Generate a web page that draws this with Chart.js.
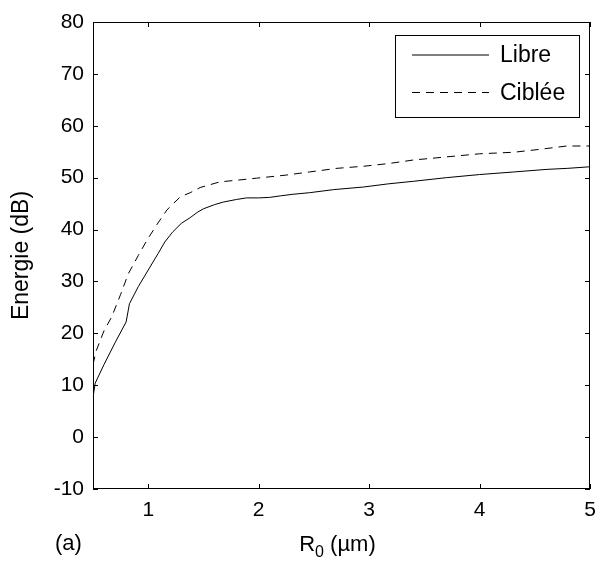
<!DOCTYPE html>
<html>
<head>
<meta charset="utf-8">
<script src="https://cdn.jsdelivr.net/npm/chart.js@4/dist/chart.umd.min.js"></script>
<style>
html,body{margin:0;padding:0;background:#fff;}
canvas{display:block;}
</style>
</head>
<body>
<canvas id="c" width="601" height="566"></canvas>
<script>
// ---- data ----
const seriesNames = ['Libre', 'Ciblée'];
const xLibre = [0.50, 0.52, 0.60, 0.70, 0.80, 0.83, 0.91, 1.00, 1.09, 1.15, 1.22, 1.30, 1.38, 1.45, 1.50, 1.60, 1.68, 1.80, 1.89, 2.00, 2.10, 2.20, 2.31, 2.46, 2.68, 2.95, 3.17, 3.40, 3.70, 4.00, 4.31, 4.61, 4.80, 5.00];
const yLibre = [7.7, 10.4, 14.0, 18.2, 22.2, 25.7, 29.0, 32.2, 35.4, 37.6, 39.5, 41.2, 42.3, 43.4, 44.0, 44.8, 45.3, 45.8, 46.1, 46.1, 46.2, 46.5, 46.8, 47.1, 47.7, 48.2, 48.8, 49.3, 50.0, 50.6, 51.1, 51.6, 51.8, 52.1];
const xCiblee = [0.50, 0.53, 0.60, 0.67, 0.75, 0.82, 0.91, 0.99, 1.08, 1.17, 1.29, 1.38, 1.47, 1.65, 1.80, 1.98, 2.25, 2.46, 2.71, 2.95, 3.17, 3.40, 3.70, 4.00, 4.31, 4.52, 4.79, 5.00];
const yCiblee = [14.0, 16.7, 20.5, 23.2, 27.5, 31.5, 35.0, 38.0, 41.0, 43.8, 46.3, 47.1, 48.1, 49.2, 49.5, 49.9, 50.5, 51.1, 51.8, 52.2, 52.7, 53.4, 54.0, 54.6, 54.9, 55.4, 56.1, 56.1];
const xTicks = [1, 2, 3, 4, 5];
const yTicks = [-10, 0, 10, 20, 30, 40, 50, 60, 70, 80];
const yTitle = 'Energie (dB)';
const xTitleMain = 'R';
const xTitleSub = '0';
const xTitleRest = ' (\u00b5m)';
const panelTag = '(a)';

const FONT = '"Liberation Sans", Arial, Helvetica, sans-serif';

const toPts = (xs, ys) => xs.map((x, i) => ({x: x, y: ys[i]}));

const framePlugin = {
  id: 'frame',
  afterDraw(chart) {
    const ctx = chart.ctx;
    const a = chart.chartArea;
    const xs = chart.scales.x, ys = chart.scales.y;
    ctx.save();
    ctx.strokeStyle = '#000';
    ctx.lineWidth = 1;
    // box
    ctx.strokeRect(Math.round(a.left) + 0.5, Math.round(a.top) + 0.5,
                   Math.round(a.right - a.left) - 1, Math.round(a.bottom - a.top) - 1);
    // inward ticks
    const tl = 5;
    ctx.beginPath();
    ys.ticks.forEach(t => {
      const py = Math.round(ys.getPixelForValue(t.value)) + 0.5;
      ctx.moveTo(a.left, py); ctx.lineTo(a.left + tl, py);
      ctx.moveTo(a.right, py); ctx.lineTo(a.right - tl, py);
    });
    xs.ticks.forEach(t => {
      const px = Math.round(xs.getPixelForValue(t.value)) + 0.5;
      ctx.moveTo(px, a.bottom); ctx.lineTo(px, a.bottom - tl);
      ctx.moveTo(px, a.top); ctx.lineTo(px, a.top + tl);
    });
    ctx.stroke();

    // legend
    const lx = 395.5, ly = 35.5, lw = 184, lh = 82;
    ctx.fillStyle = '#fff';
    ctx.fillRect(lx, ly, lw, lh);
    ctx.strokeRect(lx, ly, lw, lh);
    chart.data.datasets.forEach((ds, i) => {
      const yy = (i === 0 ? 55 : 92.5);
      ctx.beginPath();
      ctx.setLineDash(ds.borderDash || []);
      ctx.moveTo(412, yy); ctx.lineTo(489, yy);
      ctx.stroke();
      ctx.setLineDash([]);
      ctx.fillStyle = '#000';
      ctx.font = '23px ' + FONT;
      ctx.textBaseline = 'middle';
      ctx.textAlign = 'left';
      ctx.fillText(ds.label, 500, yy + 1);
    });

    // x title with subscript
    ctx.fillStyle = '#000';
    ctx.textBaseline = 'alphabetic';
    ctx.textAlign = 'left';
    const big = '22px ' + FONT, small = '16px ' + FONT;
    ctx.font = big; const w1 = ctx.measureText(xTitleMain).width;
    ctx.font = small; const w2 = ctx.measureText(xTitleSub).width;
    ctx.font = big; const w3 = ctx.measureText(xTitleRest).width;
    const total = w1 + w2 + w3;
    let x0 = (a.left + a.right) / 2 - total / 2 - 4;
    const base = 551;
    ctx.font = big; ctx.fillText(xTitleMain, x0, base);
    ctx.font = small; ctx.fillText(xTitleSub, x0 + w1, base + 6);
    ctx.font = big; ctx.fillText(xTitleRest, x0 + w1 + w2, base);

    // panel tag
    ctx.font = '22px ' + FONT;
    ctx.fillText(panelTag, 55, 550);
    ctx.restore();
  }
};

new Chart(document.getElementById('c'), {
  type: 'line',
  data: {
    datasets: [
      { label: seriesNames[0], data: toPts(xLibre, yLibre), borderColor: '#000', borderWidth: 1, pointRadius: 0, tension: 0, fill: false },
      { label: seriesNames[1], data: toPts(xCiblee, yCiblee), borderColor: '#000', borderWidth: 1, borderDash: [8, 6], pointRadius: 0, tension: 0, fill: false }
    ]
  },
  options: {
    responsive: false,
    animation: false,
    devicePixelRatio: 1,
    layout: { padding: { left: 0, top: 22, right: 11, bottom: 0 } },
    plugins: { legend: { display: false }, tooltip: { enabled: false } },
    scales: {
      x: {
        type: 'linear', min: 0.5, max: 5,
        afterBuildTicks: s => { s.ticks = xTicks.map(v => ({ value: v })); },
        afterFit: s => { s.height = 77; s.paddingRight = 0; s.paddingLeft = 0; },
        grid: { display: false, drawTicks: false },
        border: { display: false },
        ticks: { color: '#000', font: { family: FONT, size: 21 }, padding: 9, maxRotation: 0, callback: v => String(v) }
      },
      y: {
        type: 'linear', min: -10, max: 80,
        afterBuildTicks: s => { s.ticks = yTicks.map(v => ({ value: v })); },
        afterFit: s => { s.width = 93; s.paddingTop = 0; s.paddingBottom = 0; },
        grid: { display: false, drawTicks: false },
        border: { display: false },
        ticks: { color: '#000', font: { family: FONT, size: 21 }, padding: 9, callback: v => String(v) },
        title: { display: true, text: yTitle, color: '#000', font: { family: FONT, size: 23 }, padding: { top: 8, bottom: 0 } }
      }
    }
  },
  plugins: [framePlugin]
});
</script>
</body>
</html>
